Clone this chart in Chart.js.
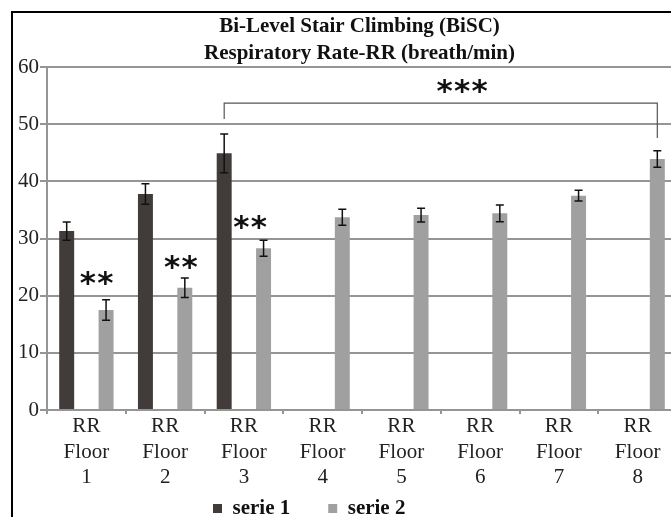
<!DOCTYPE html>
<html lang="en">
<head>
  <meta charset="UTF-8" />
  <title>BiSC - Respiratory Rate</title>
  <script src="https://cdn.jsdelivr.net/npm/chart.js"></script>
  <style>
    html, body { margin: 0; padding: 0; background: #fff; overflow: hidden; }
    #wrap { position: relative; width: 671px; height: 517px; overflow: hidden; }
    #chart { position: absolute; left: 0; top: 0; }
    #frame { position: absolute; left: 11px; top: 11px; width: 720px; height: 560px; border: 2px solid #000; pointer-events: none; }
  </style>
</head>
<body>
  <div id="wrap">
    <canvas id="chart" width="719" height="561"></canvas>
    <div id="frame"></div>
  </div>

  <script>
    // data
    const floors = [['RR', 'Floor', '1'], ['RR', 'Floor', '2'], ['RR', 'Floor', '3'], ['RR', 'Floor', '4'],
                    ['RR', 'Floor', '5'], ['RR', 'Floor', '6'], ['RR', 'Floor', '7'], ['RR', 'Floor', '8']];
    const serie1 = [31.3, 37.8, 44.9, null, null, null, null, null];
    const serie1Err = [1.6, 1.8, 3.4, null, null, null, null, null];
    const serie2 = [17.5, 21.4, 28.3, 33.7, 34.1, 34.4, 37.5, 43.9];
    const serie2Err = [1.8, 1.7, 1.4, 1.4, 1.2, 1.45, 0.95, 1.45];
    const yTicks = [0, 10, 20, 30, 40, 50, 60];

    // significance marks (category coordinate, value)
    const sigText = ['**', '**', '**'];
    const sigX = [0.13, 1.2, 2.08];
    const sigY = [23.0, 25.8, 32.8];
    // bracket serie 1 floor 3 -> serie 2 floor 8
    const bracketFrom = [0, 2, 50.9];
    const bracketTo = [1, 7, 47.6];
    const bracketTop = 53.7;
    const bracketLabel = { text: '***', x: 4.77, y: 56.5 };

    const gridGray = '#959595';
    const serif = '"Liberation Serif", "Times New Roman", serif';

    function drawStars(ctx, text, x, y) {
      ctx.save();
      ctx.fillStyle = '#111';
      ctx.font = 'bold 31px "DejaVu Sans", sans-serif';
      ctx.textAlign = 'center';
      ctx.textBaseline = 'middle';
      const step = 17.5;
      for (let i = 0; i < text.length; i++) {
        ctx.fillText(text[i], x + (i - (text.length - 1) / 2) * step, y + 6);
      }
      ctx.restore();
    }

    const extras = {
      id: 'extras',
      afterUpdate(chart) {
        // title is centred on the whole picture, legend sits left of centre
        chart.titleBlock.left += 21;
        chart.titleBlock.right += 21;
        const lg = chart.legend;
        const pad = lg.options.labels.padding;
        const start = (lg.left + pad + lg.right - lg.lineWidths[0]) / 2;
        const dx = 213 - start;
        lg.left += dx;
        lg.right += dx;
        const dy = chart.chartArea.bottom + 50 - lg.top;
        lg.top += dy;
        lg.bottom += dy;
      },
      afterDatasetsDraw(chart) {
        const ctx = chart.ctx;
        const x = chart.scales.x, y = chart.scales.y;
        const errs = [serie1Err, serie2Err];

        // error bars
        ctx.save();
        ctx.strokeStyle = '#111';
        ctx.lineWidth = 1.5;
        chart.data.datasets.forEach((ds, di) => {
          chart.getDatasetMeta(di).data.forEach((bar, i) => {
            const v = ds.data[i], e = errs[di][i];
            if (v == null || e == null) return;
            const top = y.getPixelForValue(v + e), bot = y.getPixelForValue(v - e);
            ctx.beginPath();
            ctx.moveTo(bar.x, top); ctx.lineTo(bar.x, bot);
            ctx.moveTo(bar.x - 4, top); ctx.lineTo(bar.x + 4, top);
            ctx.moveTo(bar.x - 4, bot); ctx.lineTo(bar.x + 4, bot);
            ctx.stroke();
          });
        });
        ctx.restore();

        // bracket
        const x1 = chart.getDatasetMeta(bracketFrom[0]).data[bracketFrom[1]].x;
        const x2 = chart.getDatasetMeta(bracketTo[0]).data[bracketTo[1]].x;
        ctx.save();
        ctx.strokeStyle = '#555';
        ctx.lineWidth = 1.2;
        ctx.beginPath();
        ctx.moveTo(x1, y.getPixelForValue(bracketFrom[2]));
        ctx.lineTo(x1, y.getPixelForValue(bracketTop));
        ctx.lineTo(x2, y.getPixelForValue(bracketTop));
        ctx.lineTo(x2, y.getPixelForValue(bracketTo[2]));
        ctx.stroke();
        ctx.restore();

        drawStars(ctx, bracketLabel.text, x.getPixelForValue(bracketLabel.x), y.getPixelForValue(bracketLabel.y));
        sigText.forEach((t, i) => drawStars(ctx, t, x.getPixelForValue(sigX[i]), y.getPixelForValue(sigY[i])));
      }
    };

    new Chart(document.getElementById('chart'), {
      type: 'bar',
      data: {
        labels: floors,
        datasets: [
          { label: 'serie 1', data: serie1, backgroundColor: '#413b3a', categoryPercentage: 1.0, barPercentage: 0.38 },
          { label: 'serie 2', data: serie2, backgroundColor: '#a0a0a0', categoryPercentage: 1.0, barPercentage: 0.38 }
        ]
      },
      options: {
        responsive: false,
        animation: false,
        layout: { padding: { left: 0, right: 42, top: 0, bottom: 0 } },
        plugins: {
          title: {
            display: true,
            text: ['Bi-Level Stair Climbing (BiSC)', 'Respiratory Rate-RR (breath/min)'],
            color: '#111',
            font: { family: serif, size: 21, weight: 'bold', lineHeight: 1.286 },
            padding: { top: 13, bottom: 0 }
          },
          legend: {
            position: 'bottom',
            labels: {
              color: '#111',
              boxWidth: 9,
              boxHeight: 9,
              padding: 38,
              font: { family: serif, size: 21, weight: 'bold' }
            }
          },
          tooltip: { enabled: false }
        },
        scales: {
          x: {
            afterFit(scale) { scale.height = 82; },
            grid: { drawOnChartArea: false, drawTicks: true, tickLength: 4, color: gridGray, lineWidth: 2 },
            border: { color: gridGray, width: 2 },
            ticks: { color: '#222', padding: 0, font: { family: serif, size: 21, lineHeight: 1.214 } }
          },
          y: {
            min: 0,
            max: 60,
            afterFit(scale) { scale.width = 47; },
            afterBuildTicks(scale) { scale.ticks = yTicks.map(v => ({ value: v })); },
            grid: { color: gridGray, lineWidth: 2, tickLength: 7 },
            border: { color: gridGray, width: 2 },
            ticks: { color: '#222', padding: 1, font: { family: serif, size: 21 } }
          }
        }
      },
      plugins: [extras]
    });
  </script>
</body>
</html>
